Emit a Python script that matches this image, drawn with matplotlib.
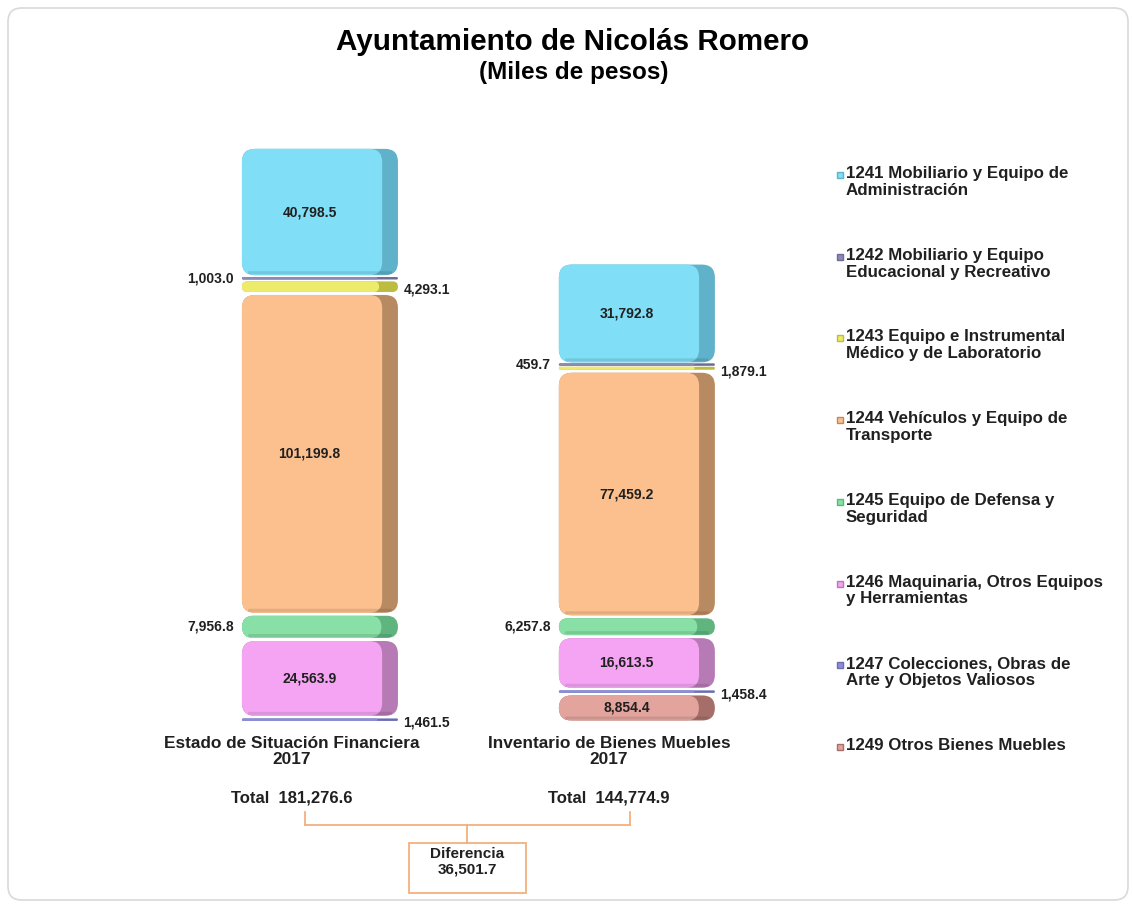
import matplotlib
matplotlib.use('Agg')
import matplotlib.pyplot as plt
import matplotlib.transforms as mtransforms
from matplotlib.patches import FancyBboxPatch, Rectangle
from matplotlib.lines import Line2D

plt.rcParams['font.family'] = ['Liberation Sans', 'DejaVu Sans']

# datos (miles de pesos), de arriba hacia abajo en cada barra
cuentas = ['1241 Mobiliario y Equipo de\nAdministración',
           '1242 Mobiliario y Equipo\nEducacional y Recreativo',
           '1243 Equipo e Instrumental\nMédico y de Laboratorio',
           '1244 Vehículos y Equipo de\nTransporte',
           '1245 Equipo de Defensa y\nSeguridad',
           '1246 Maquinaria, Otros Equipos\ny Herramientas',
           '1247 Colecciones, Obras de\nArte y Objetos Valiosos',
           '1249 Otros Bienes Muebles']
categorias = ['Estado de Situación Financiera\n2017',
              'Inventario de Bienes Muebles\n2017']
estado = [40798.5, 1003.0, 4293.1, 101199.8, 7956.8, 24563.9, 1461.5, 0.0]
inventario = [31792.8, 459.7, 1879.1, 77459.2, 6257.8, 16613.5, 1458.4, 8854.4]

colores_frente = ['#80def6', '#8c8ab6', '#ecec6a', '#fcc08e',
                  '#88e0a6', '#f4a4f2', '#8e8ed8', '#e2a49c']
colores_lado = ['#5fb2ca', '#6e6c94', '#bcbc40', '#b88a62',
                '#60b47e', '#b67ab4', '#6c6cb2', '#a66e68']
# donde va la etiqueta de cada cuenta
pos_etiqueta = ['in', 'izq', 'der', 'in', 'izq', 'in', 'der', 'in']

W, H = 1133, 905
fig = plt.figure(figsize=(W / 100, H / 100), dpi=100)

# marco gris redondeado
marco = FancyBboxPatch((8 / W, 5 / H), 1120 / W, 892 / H,
                       boxstyle='round,pad=0,rounding_size=0.012',
                       mutation_aspect=W / H, transform=fig.transFigure,
                       fc='none', ec='#d9d9d9', lw=1.2, zorder=-5)
fig.add_artist(marco)

ax = fig.add_axes([130 / W, (H - 722) / H, 670 / W, 592 / H])
ax.set_xlim(-0.511, 1.603)
ax.set_ylim(0, 186750)
ax.axis('off')

ppx = 670 / (1.603 + 0.511)      # pixeles por unidad x
upy = 186750 / 592               # unidades y por pixel
def px_x(p):
    return p / ppx
def px_y(p):
    return p * upy

for i, valores in enumerate([estado, inventario]):
    base = 0
    x0 = i + px_x(-50)
    xf = i + px_x(85)
    xs = i + px_x(106)
    for k in reversed(range(len(valores))):
        v = valores[k]
        if v == 0:
            continue
        h_px = v / upy
        dh = max(h_px - 3, 2.5)
        yc = base + v / 2
        y0 = yc - px_y(dh) / 2
        r = min(13, dh / 2)
        estilo = 'round,pad=0,rounding_size=%f' % px_x(r)
        ax.add_patch(FancyBboxPatch((x0, y0), xs - x0, px_y(dh), boxstyle=estilo,
                                    mutation_aspect=upy * ppx,
                                    fc=colores_lado[k], ec='none'))
        ax.add_patch(FancyBboxPatch((x0, y0), xf - x0 + px_x(r * 0.4), px_y(dh), boxstyle=estilo,
                                    mutation_aspect=upy * ppx,
                                    fc=colores_frente[k], ec='none'))
        if dh > 14:
            # sombra abajo
            ax.add_patch(FancyBboxPatch((x0 + px_x(6), y0 + px_y(1)), xs - x0 - px_x(12), px_y(3),
                                        boxstyle='round,pad=0,rounding_size=%f' % px_x(1.5),
                                        mutation_aspect=upy * ppx,
                                        fc='black', alpha=0.10, ec='none'))
        txt = f'{v:,.1f}'
        if pos_etiqueta[k] == 'in':
            ax.text((x0 + xf) / 2, yc, txt, ha='center', va='center',
                    fontsize=10, fontweight='bold', color='#202020')
        elif pos_etiqueta[k] == 'izq':
            ax.annotate(txt, (x0, yc), xytext=(-6, 0), textcoords='offset points',
                        ha='right', va='center', fontsize=10, fontweight='bold', color='#202020')
        else:
            ax.annotate(txt, (xs, yc), xytext=(4, -2), textcoords='offset points',
                        ha='left', va='center', fontsize=10, fontweight='bold', color='#202020')
        base += v

tr = mtransforms.blended_transform_factory(ax.transData, fig.transFigure)
totales = [sum(estado), sum(inventario)]
for i, cat in enumerate(categorias):
    ax.text(i, 1 - 751.5 / H, cat, transform=tr, ha='center', va='center',
            fontsize=12.4, fontweight='bold', linespacing=1.05, color='#202020')
    ax.text(i, 1 - 798 / H, f'Total  {totales[i]:,.1f}', transform=tr, ha='center', va='center',
            fontsize=12, fontweight='bold', color='#202020')

# llave que une los totales
naranja = '#f2b07e'
lx, rx = 0.04, 1.066
mx = (lx + rx) / 2
y_top, y_h, y_box, y_bot = 1 - 812 / H, 1 - 825 / H, 1 - 843 / H, 1 - 893 / H
for xx in (lx, rx):
    ax.add_line(Line2D([xx, xx], [y_top, y_h], transform=tr, color=naranja, lw=1.3, clip_on=False))
ax.add_line(Line2D([lx, rx], [y_h, y_h], transform=tr, color=naranja, lw=1.3, clip_on=False))
ax.add_line(Line2D([mx, mx], [y_h, y_box], transform=tr, color=naranja, lw=1.3, clip_on=False))
ax.add_patch(Rectangle((mx - 0.184, y_bot), 0.368, y_box - y_bot, transform=tr,
                       fc='white', ec=naranja, lw=1.3, clip_on=False))
ax.text(mx, (y_box + y_bot) / 2 + 0.007, f'Diferencia\n{totales[0] - totales[1]:,.1f}', transform=tr,
        ha='center', va='center', fontsize=11, fontweight='bold', linespacing=1.15, color='#202020')

# titulo
fig.text(572 / W, 1 - 42 / H, 'Ayuntamiento de Nicolás Romero', ha='center', va='center',
         fontsize=21.3, fontweight='bold', color='black')
fig.text(574 / W, 1 - 72 / H, '(Miles de pesos)', ha='center', va='center',
         fontsize=17.5, fontweight='bold', color='black')

# leyenda
for j, lab in enumerate(cuentas):
    yp = 175 + j * 81.7
    fig.add_artist(Line2D([840 / W], [1 - yp / H], marker='s', ms=5, ls='none',
                          color=colores_frente[j], mec=colores_lado[j], transform=fig.transFigure))
    fig.text(846 / W, 1 - (yp - 9) / H, lab, ha='left', va='top', fontsize=12.2,
             fontweight='bold', linespacing=1.15, color='#202020')

fig.savefig('out.png', dpi=100)
